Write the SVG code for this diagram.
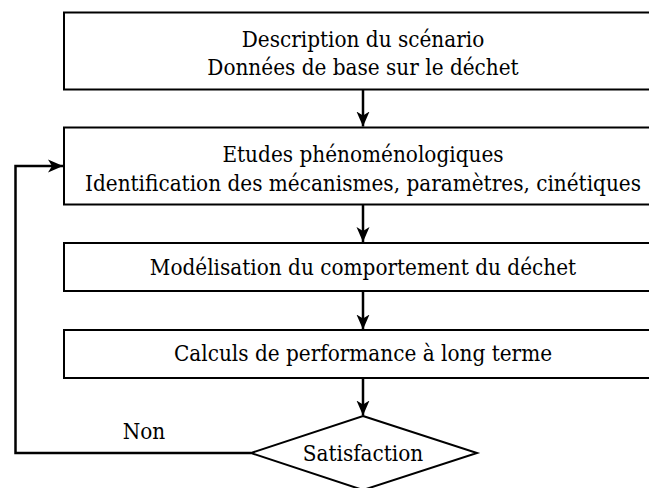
<svg xmlns="http://www.w3.org/2000/svg" width="649" height="488" viewBox="0 0 649 488">
<defs>
<style>
.box{fill:#fff;stroke:#000;stroke-width:2}
.t{font-family:"DejaVu Serif Condensed","DejaVu Serif",serif;font-size:22.3px;fill:#000;text-anchor:middle}
.c{fill:none;stroke:#000;stroke-width:2.5}
</style>
<marker id="ah" markerUnits="userSpaceOnUse" markerWidth="16" markerHeight="14" refX="15" refY="7" orient="auto">
<path d="M0,0.5 L15,7 L0,13.5 L4,7 Z" fill="#000"/>
</marker>
</defs>
<rect width="649" height="488" fill="#fff"/>
<g id="connectors">
<line class="c" x1="363" y1="89.5" x2="363" y2="126.5" marker-end="url(#ah)"/>
<line class="c" x1="363" y1="205" x2="363" y2="242" marker-end="url(#ah)"/>
<line class="c" x1="363" y1="291.5" x2="363" y2="329.5" marker-end="url(#ah)"/>
<line class="c" x1="363" y1="378.5" x2="363" y2="415.5" marker-end="url(#ah)"/>
<polyline class="c" points="251,453 15.5,453 15.5,166 63,166" marker-end="url(#ah)"/>
<text class="t" x="144" y="439">Non</text>
</g>
<g id="n1">
<rect class="box" x="64" y="12.5" width="598" height="77"/>
<text class="t" x="363" y="47">Description du scénario</text>
<text class="t" x="363" y="75">Données de base sur le déchet</text>
</g>
<g id="n2">
<rect class="box" x="64" y="127.5" width="598" height="77"/>
<text class="t" x="363" y="162">Etudes phénoménologiques</text>
<text class="t" x="363" y="191">Identification des mécanismes, paramètres, cinétiques</text>
</g>
<g id="n3">
<rect class="box" x="64" y="243" width="598" height="48"/>
<text class="t" x="363" y="275">Modélisation du comportement du déchet</text>
</g>
<g id="n4">
<rect class="box" x="64" y="330" width="598" height="48"/>
<text class="t" x="363" y="361">Calculs de performance à long terme</text>
</g>
<g id="n5">
<polygon class="box" points="363,416 477,453 363,490 251,453"/>
<text class="t" x="363" y="461">Satisfaction</text>
</g>
</svg>
